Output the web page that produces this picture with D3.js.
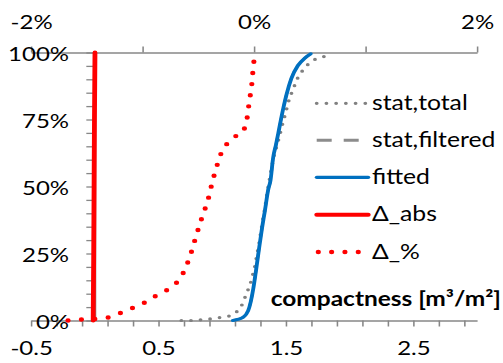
<!DOCTYPE html>
<html><head><meta charset="utf-8">
<script src="https://cdn.jsdelivr.net/npm/d3@7"></script>
<style>body{margin:0;background:#fff}svg{display:block}</style>
</head><body>
<script>
// ---- data ----
const statTotalX = [0.68, 0.765, 0.839, 0.909, 0.982, 1.051, 1.108, 1.153, 1.180, 1.206, 1.228, 1.244, 1.258, 1.269, 1.280, 1.292, 1.302, 1.312, 1.322, 1.333, 1.351, 1.378, 1.400, 1.414, 1.432, 1.447, 1.463, 1.479, 1.498, 1.513, 1.531, 1.557, 1.578, 1.610, 1.649, 1.702, 1.761, 1.832, 1.85];
const statTotalY = [0, 0, 0.003, 0.006, 0.011, 0.016, 0.030, 0.056, 0.087, 0.118, 0.148, 0.178, 0.205, 0.234, 0.262, 0.293, 0.325, 0.353, 0.384, 0.412, 0.468, 0.543, 0.599, 0.629, 0.655, 0.683, 0.712, 0.743, 0.774, 0.803, 0.833, 0.861, 0.890, 0.918, 0.943, 0.967, 0.980, 0.989, 0.992];
const fittedX = [1.084, 1.165, 1.204, 1.225, 1.245, 1.265, 1.291, 1.314, 1.335, 1.361, 1.380, 1.400, 1.422, 1.441, 1.474, 1.505, 1.543, 1.594, 1.649, 1.696];
const fittedY = [0, 0.012, 0.036, 0.071, 0.120, 0.184, 0.273, 0.348, 0.408, 0.487, 0.524, 0.607, 0.655, 0.700, 0.779, 0.843, 0.903, 0.951, 0.979, 0.995];
const statFilteredX = fittedX;
const statFilteredY = fittedY;
const deltaAbsX = [-0.012, -0.008, -0.005, -0.002, 0.002];
const deltaAbsY = [0, 0.25, 0.5, 0.75, 1.0];
const deltaPctX = [-1.668, -1.531, -1.411, -1.298, -1.187, -1.076, -0.975, -0.877, -0.773, -0.686, -0.626, -0.587, -0.553, -0.525, -0.493, -0.460, -0.424, -0.395, -0.374, -0.341, -0.314, -0.269, -0.195, -0.096, -0.065, -0.051, -0.036, -0.021, -0.012, 0.0];
const deltaPctY = [0, 0.004, 0.006, 0.012, 0.030, 0.049, 0.068, 0.093, 0.115, 0.144, 0.183, 0.224, 0.266, 0.308, 0.350, 0.393, 0.434, 0.477, 0.520, 0.563, 0.606, 0.647, 0.681, 0.703, 0.745, 0.790, 0.833, 0.875, 0.920, 0.97];

const xTickValues = [-0.5,-0.3,-0.1,0.1,0.3,0.5,0.7,0.9,1.1,1.3,1.5,1.7,1.9,2.1,2.3,2.5,2.7,2.9];
const xTickLabels = {"-0.5":"-0.5","0.5":"0.5","1.5":"1.5","2.5":"2.5"};
const topTickValues = [-2,-1,0,1,2];
const topTickLabels = {"-2":"-2%","0":"0%","2":"2%"};
const yTickValues = d3.range(0, 21).map(i => i / 20);
const yTickLabels = {"0":"0%","0.25":"25%","0.5":"50%","0.75":"75%","1":"100%"};
const seriesNames = ["stat,total", "stat,filtered", "fitted", "\u0394_abs", "\u0394_%"];
const axisTitle = "compactness [m\u00b3/m\u00b2]";

// ---- layout ----
const W = 503, H = 363, SX = 1.2;
const FONT = "Lato, 'Open Sans', sans-serif";
const AXC = "#878787";
const svg = d3.select("body").append("svg").attr("width", W).attr("height", H);
svg.append("rect").attr("width", W).attr("height", H).attr("fill", "#fff");
const g = svg.append("g").attr("transform", `scale(${SX},1)`);

const x = d3.scaleLinear().domain([-0.5, 3.0]).range([31 / SX, 477 / SX]);
const xTop = d3.scaleLinear().domain([-2, 2]).range([31 / SX, 477 / SX]);
const y = d3.scaleLinear().domain([0, 1]).range([320.5, 52.5]);

function styleAxis(sel) {
  sel.select(".domain").attr("stroke", AXC).attr("stroke-width", 1.6);
  sel.selectAll(".tick line").attr("stroke", AXC).attr("stroke-width", 1.3);
  sel.selectAll("text").attr("fill", "#000").style("font-family", FONT).style("font-size", "20px");
}

// bottom axis
const gx = g.append("g").attr("transform", `translate(0,${y(0)})`)
  .call(d3.axisBottom(x).tickValues(xTickValues).tickSize(6).tickSizeOuter(0)
    .tickFormat(d => xTickLabels[String(+d.toFixed(1))] || ""));
styleAxis(gx);
gx.selectAll("text").attr("y", 34.5).attr("dy", 0);

// top axis
const gt = g.append("g").attr("transform", `translate(0,${y(1)})`)
  .call(d3.axisTop(xTop).tickValues(topTickValues).tickSize(6).tickSizeOuter(0)
    .tickFormat(d => topTickLabels[String(d)] || ""));
styleAxis(gt);
gt.selectAll("text").attr("y", -23.5).attr("dy", 0);

// left axis at x=0
const gy = g.append("g").attr("transform", `translate(${x(0)},0)`)
  .call(d3.axisLeft(y).tickValues(yTickValues).tickSize(7).tickSizeOuter(0)
    .tickFormat(d => yTickLabels[String(+d.toFixed(2))] || ""));
styleAxis(gy);
gy.selectAll("text").attr("x", -25.7 / SX).attr("dy", "0.4em");

// ---- series ----
const line = d3.line().x(d => x(d[0])).y(d => y(d[1]));
const lineTop = d3.line().x(d => xTop(d[0])).y(d => y(d[1]));
const zip = (a, b) => a.map((v, i) => [v, b[i]]);

const styles = [
  {stroke: "#808080", width: 3.2, dash: "0 8", cap: "round"},
  {stroke: "#8c8c8c", width: 3, dash: "12.5 10", cap: "butt"},
  {stroke: "#0070C0", width: 3.2, dash: null, cap: "round"},
  {stroke: "#FF0000", width: 4, dash: null, cap: "round"},
  {stroke: "#FF0000", width: 4.4, dash: "0 11.2", cap: "round"}
];
function draw(pathD, s) {
  const p = g.append("path").attr("d", pathD).attr("fill", "none")
    .attr("stroke", s.stroke).attr("stroke-width", s.width)
    .attr("stroke-linecap", s.cap).attr("stroke-linejoin", "round");
  if (s.dash) p.attr("stroke-dasharray", s.dash);
  return p;
}
draw(line.curve(d3.curveMonotoneX)(zip(statTotalX, statTotalY)), styles[0]);
draw(line.curve(d3.curveMonotoneX)(zip(statFilteredX, statFilteredY)), {...styles[1], width: 2.4});
draw(line.curve(d3.curveMonotoneX)(zip(fittedX, fittedY)), styles[2]);
draw(line.curve(d3.curveLinear)(zip(deltaAbsX, deltaAbsY)), styles[3]);
draw(lineTop.curve(d3.curveLinear)(zip(deltaPctX, deltaPctY)), styles[4]);

// ---- legend ----
const legY = [103.3, 140.3, 177.3, 214.7, 252];
seriesNames.forEach((name, i) => {
  const s = styles[i];
  const x0 = (i === 4 ? 318.3 : 316.7) / SX, x1 = 368.3 / SX;
  const p = g.append("line").attr("x1", x0).attr("x2", x1).attr("y1", legY[i]).attr("y2", legY[i])
    .attr("stroke", s.stroke).attr("stroke-width", s.width).attr("stroke-linecap", s.cap);
  if (s.dash) p.attr("stroke-dasharray", i === 4 ? "0 11.1" : (i === 0 ? "0 8.1" : s.dash));
  g.append("text").attr("x", 372 / SX).attr("y", legY[i] + 6.7)
    .style("font-family", FONT).style("font-size", "20.6px").attr("fill", "#000").text(name);
});

// axis title
g.append("text").attr("x", 501 / SX).attr("y", 306).attr("text-anchor", "end")
  .style("font-family", FONT).style("font-size", "20.4px").style("font-weight", "bold")
  .attr("fill", "#000").text(axisTitle);
</script>
</body></html>
